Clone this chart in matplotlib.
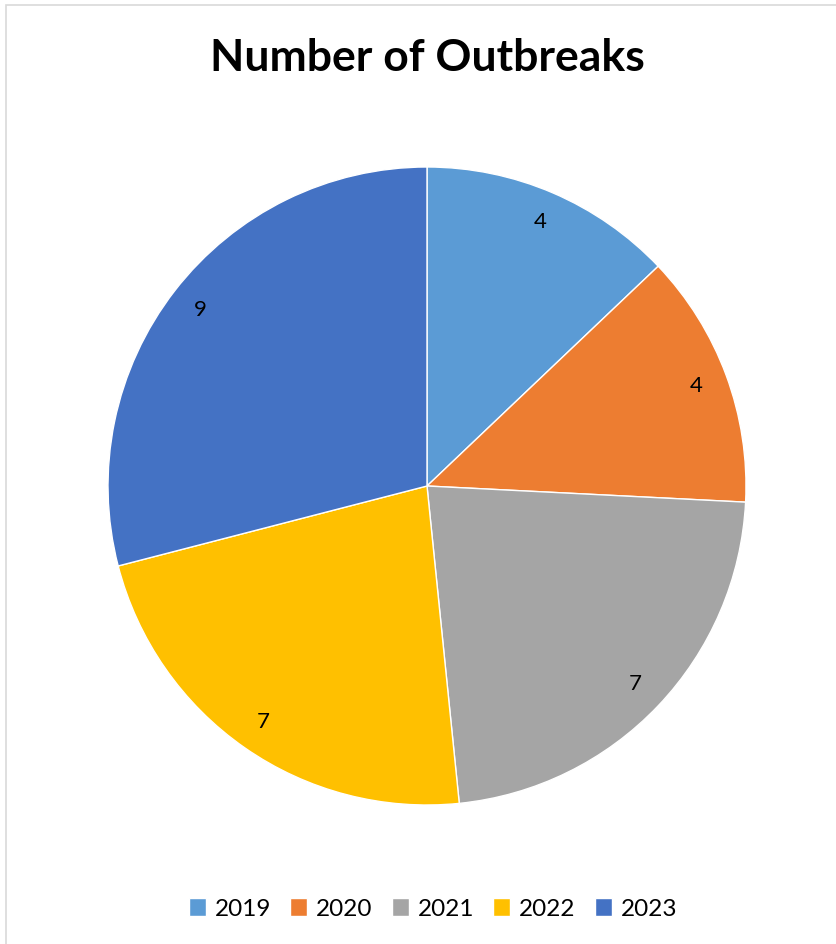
import matplotlib
matplotlib.use("Agg")
import matplotlib.pyplot as plt
from matplotlib.patches import Rectangle

years = ["2019", "2020", "2021", "2022", "2023"]
outbreaks = [4, 4, 7, 7, 9]
colors = ["#5B9BD5", "#ED7D31", "#A5A5A5", "#FFC000", "#4472C4"]

plt.rcParams["font.family"] = ["Lato", "DejaVu Sans"]

W, H = 837, 944
fig = plt.figure(figsize=(W / 100, H / 100), dpi=100)

# light grey chart frame (right/bottom edges run off the image)
fig.patches.append(Rectangle((6 / W, -0.01), 1.2, 1 - 5 / H + 0.01, transform=fig.transFigure,
                             fill=False, edgecolor="#D9D9D9", linewidth=1.2))

cx, cy, r = 427, 486, 319
ax = fig.add_axes([(cx - r) / W, (H - cy - r) / H, 2 * r / W, 2 * r / H])
wedges, texts = ax.pie(outbreaks, colors=colors, startangle=90, counterclock=False,
                       labels=[str(v) for v in outbreaks], labeldistance=0.9,
                       wedgeprops=dict(edgecolor="white", linewidth=1.0),
                       textprops=dict(fontsize=16, color="black"))
for t in texts:
    t.set_ha("center")
    t.set_va("center")
ax.set_xlim(-1, 1)
ax.set_ylim(-1, 1)
ax.set_aspect("equal")

fig.text(427 / W, 1 - 58 / H, "Number of Outbreaks", ha="center", va="center",
         fontsize=32, fontweight="bold")

fig.legend(wedges, years, loc="center", bbox_to_anchor=(433 / W, 1 - 909 / H), ncol=5,
           frameon=False, fontsize=17.5, handlelength=0.7, handleheight=0.7,
           handletextpad=0.35, columnspacing=0.8)

fig.savefig("out.png", dpi=100)
